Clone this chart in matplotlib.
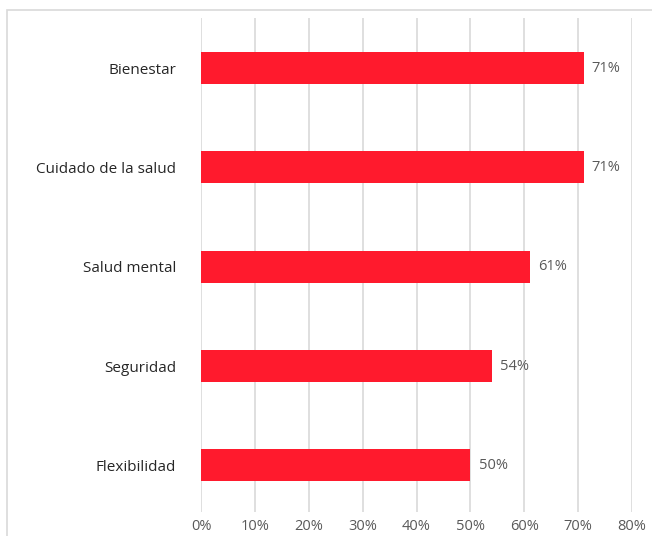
import matplotlib
matplotlib.use("Agg")
import matplotlib.pyplot as plt
from matplotlib.patches import Rectangle
from matplotlib.ticker import FuncFormatter

categories = ["Bienestar", "Cuidado de la salud", "Salud mental", "Seguridad", "Flexibilidad"]
values = [71, 71, 61, 54, 50]
value_labels = ["71%", "71%", "61%", "54%", "50%"]
xticks = [0, 10, 20, 30, 40, 50, 60, 70, 80]

plt.rcParams['font.family'] = ['Open Sans', 'DejaVu Sans']

fig = plt.figure(figsize=(6.52, 5.36), dpi=100)
fig.patches.append(Rectangle((7/652, -0.2), 1, 1.2 - 10/536, transform=fig.transFigure,
                             fill=False, edgecolor="#d9d9d9", linewidth=1.2, zorder=0))
ax = fig.add_axes([201/652, 1 - 512/536, (632 - 201)/652, (512 - 18)/536])

n = len(categories)
ypos = list(range(n - 1, -1, -1))
ax.barh(ypos, values, height=0.32, color="#FF1A2D", zorder=3)
for y, v, lab in zip(ypos, values, value_labels):
    ax.annotate(lab, (v, y), xytext=(6, 0), textcoords="offset points",
                va="center", ha="left", fontsize=10.5, color="#595959")

ax.set_xlim(0, 80)
ax.set_ylim(-0.47, n - 1 + 0.504)
ax.set_xticks(xticks)
ax.xaxis.set_major_formatter(FuncFormatter(lambda x, p: f"{int(x)}%"))
ax.set_yticks(ypos)
ax.set_yticklabels(categories)
ax.tick_params(axis="y", length=0, pad=18, labelsize=11, labelcolor="#262626")
ax.tick_params(axis="x", length=0, pad=5, labelsize=10.5, labelcolor="#595959")
ax.grid(axis="x", color="#d9d9d9", linewidth=1.2, zorder=0)
for s in ax.spines.values():
    s.set_visible(False)

fig.savefig("out.png", dpi=100)
